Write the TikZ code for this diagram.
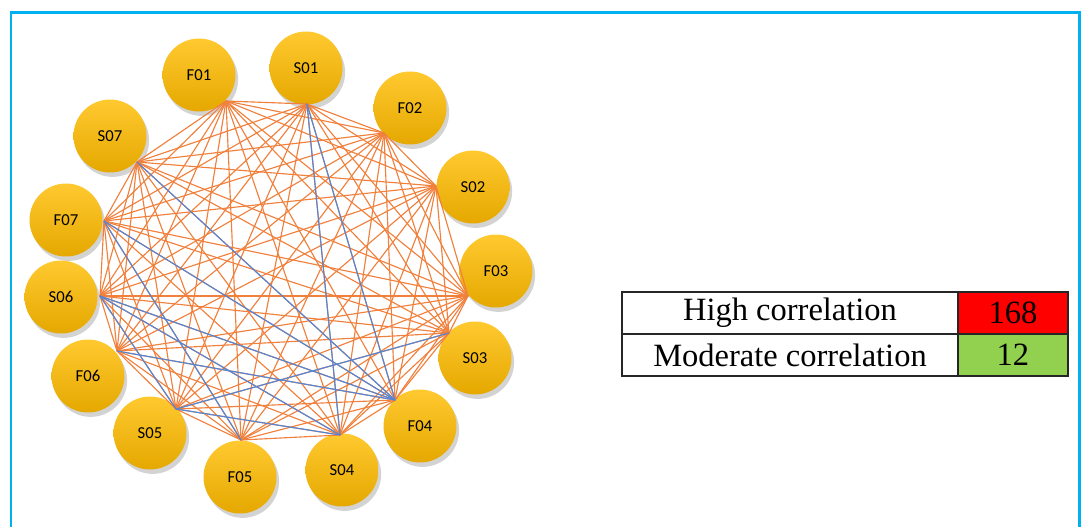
\documentclass[tikz,border=0pt]{standalone}
\usepackage{fontspec}
\setmainfont{Liberation Serif}
\newfontfamily\nodefont{Carlito}
\usetikzlibrary{positioning,shadows}
\definecolor{frameblue}{RGB}{0,176,240}
\definecolor{edgeorange}{RGB}{240,128,60}
\definecolor{edgeblue}{RGB}{84,134,214}
\definecolor{goldtop}{RGB}{255,201,48}
\definecolor{goldbot}{RGB}{229,168,0}
\definecolor{cellred}{RGB}{255,0,0}
\definecolor{cellgreen}{RGB}{146,208,80}

\begin{document}
\begin{tikzpicture}[x=0.02cm,y=-0.02cm,
		var/.style={circle,minimum size=1.46cm,inner sep=0pt,top color=goldtop,bottom color=goldbot,
			drop shadow={shadow xshift=1.5pt,shadow yshift=-2.5pt,opacity=0.35},
			font=\nodefont\fontsize{9.5}{10}\selectfont},
		high/.style={edgeorange,line width=0.65pt},
		moderate/.style={edgeblue,line width=0.65pt},
		cell/.style={draw=black!85,line width=0.9pt,outer sep=0pt,inner sep=0pt,minimum height=0.84cm,
			font=\fontsize{18.5}{20}\selectfont}]
		\useasboundingbox (0,0) rectangle (1085,527);
		\draw[frameblue,line width=0.06cm] (11,540) -- (11,13) -- (1079,13) -- (1079,540);
		% the variables
		\node[var] (F01) at (199,75)  {F01};
		\node[var] (S01) at (306,68)  {S01};
		\node[var] (F02) at (410,108) {F02};
		\node[var] (S02) at (473,187) {S02};
		\node[var] (F03) at (496,271) {F03};
		\node[var] (S03) at (475,358) {S03};
		\node[var] (F04) at (420,426) {F04};
		\node[var] (S04) at (342,470) {S04};
		\node[var] (F05) at (240,477) {F05};
		\node[var] (S05) at (150,433) {S05};
		\node[var] (F06) at (88,376)  {F06};
		\node[var] (S06) at (61,297)  {S06};
		\node[var] (F07) at (66,220)  {F07};
		\node[var] (S07) at (110,136) {S07};
		% where the lines meet each circle
		\coordinate (eF01) at (226,101);
		\coordinate (eS01) at (307,104);
		\coordinate (eF02) at (384,133);
		\coordinate (eS02) at (436,186);
		\coordinate (eF03) at (468,296);
		\coordinate (eS03) at (449,333);
		\coordinate (eF04) at (395,400);
		\coordinate (eS04) at (340,435);
		\coordinate (eF05) at (241,440);
		\coordinate (eS05) at (176,409);
		\coordinate (eF06) at (117,351);
		\coordinate (eS06) at (100,296);
		\coordinate (eF07) at (104,221);
		\coordinate (eS07) at (137,162);
		% high correlation: every pair
		\foreach \a [count=\i] in {F01,S01,F02,S02,F03,S03,F04,S04,F05,S05,F06,S06,F07,S07}
		\foreach \b [count=\j] in {F01,S01,F02,S02,F03,S03,F04,S04,F05,S05,F06,S06,F07,S07}
		{\ifnum\i<\j \draw[high] (e\a) -- (e\b); \fi}
		% moderate correlation
		\foreach \a/\b in {S01/S04,S01/F04,S07/F04,F07/F04,S06/F04,F06/F04,F07/F05,S06/S05,S05/S03,S05/S04,S06/S04}
		\draw[moderate] (e\a) -- (e\b);
		% counts
		\node[cell,fill=white,minimum width=6.72cm] (hiName) at (790,313) {High correlation};
		\node[cell,fill=cellred,minimum width=2.2cm,right=0pt of hiName] (hiCount) {168};
		\node[cell,fill=white,minimum width=6.72cm,below=0pt of hiName] (modName) {Moderate correlation};
		\node[cell,fill=cellgreen,minimum width=2.2cm,right=0pt of modName] (modCount) {12};
	\end{tikzpicture}
\end{document}
